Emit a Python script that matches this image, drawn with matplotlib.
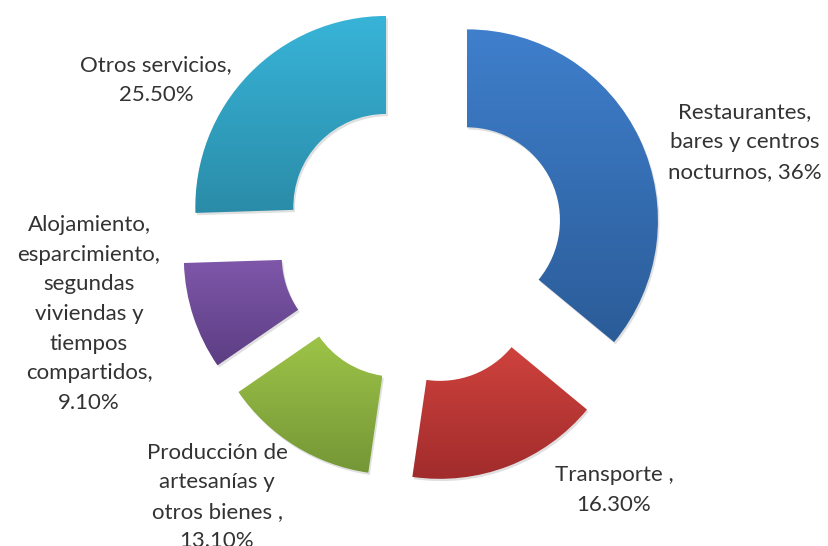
import numpy as np
import matplotlib
matplotlib.use("Agg")
import matplotlib.pyplot as plt
from matplotlib.patches import Wedge
from matplotlib.colors import LinearSegmentedColormap

# data
categorias = ["Restaurantes,\nbares y centros\nnocturnos,",
              "Transporte ,",
              "Producción de\nartesanías y\notros bienes ,",
              "Alojamiento,\nesparcimiento,\nsegundas\nviviendas y\ntiempos\ncompartidos,",
              "Otros servicios,"]
valores = [36.0, 16.3, 13.1, 9.1, 25.5]
valores_txt = ["36%", "16.30%", "13.10%", "9.10%", "25.50%"]

# gradient colours (top, bottom) per slice
colores = [("#3f7fcc", "#2b5c98"),
           ("#cf423d", "#a12c2c"),
           ("#9dc448", "#759636"),
           ("#7f57aa", "#5c3e83"),
           ("#38b4d8", "#2a8ca8")]

# label positions in pixels (x, y from top)
pos_px = [(745, 142), (614, 490), (217, 497), (89, 314), (156, 80)]
sep = [" ", "\n", "\n", "\n", "\n"]

W, H = 829, 546
cx, cy, R = 422, 241.5, 191.0

plt.rcParams['font.family'] = ['Lato', 'DejaVu Sans']

fig = plt.figure(figsize=(W / 100, H / 100), dpi=100)
ax = fig.add_axes([0, 0, 1, 1])

wedges, _ = ax.pie(valores, startangle=90, counterclock=False, radius=1,
                   explode=[0.26] * len(valores),
                   wedgeprops=dict(width=0.513, edgecolor='none', facecolor='none'))

for w, (c1, c2) in zip(wedges, colores):
    # soft shadow
    sh = Wedge((w.center[0] + 0.008, w.center[1] - 0.012), w.r, w.theta1, w.theta2,
               width=w.width, facecolor='#000000', alpha=0.12, edgecolor='none', zorder=0)
    ax.add_patch(sh)
    ext = w.get_path().transformed(w.get_patch_transform()).get_extents()
    cmap = LinearSegmentedColormap.from_list("g", [c2, c1])
    grad = np.linspace(0, 1, 256).reshape(-1, 1)
    im = ax.imshow(grad, cmap=cmap, origin='lower', aspect='auto',
                   extent=[ext.x0, ext.x1, ext.y0, ext.y1], zorder=1)
    im.set_clip_path(w)

for cat, val, s, (px, py) in zip(categorias, valores_txt, sep, pos_px):
    ax.text((px - cx) / R, (cy - py) / R, cat + s + val, ha='center', va='center',
            fontsize=16, color='#333333', linespacing=1.6)

ax.set_xlim(-cx / R, (W - cx) / R)
ax.set_ylim((cy - H) / R, cy / R)
ax.set_aspect('auto')
ax.axis('off')

fig.savefig("out.png", dpi=100)
